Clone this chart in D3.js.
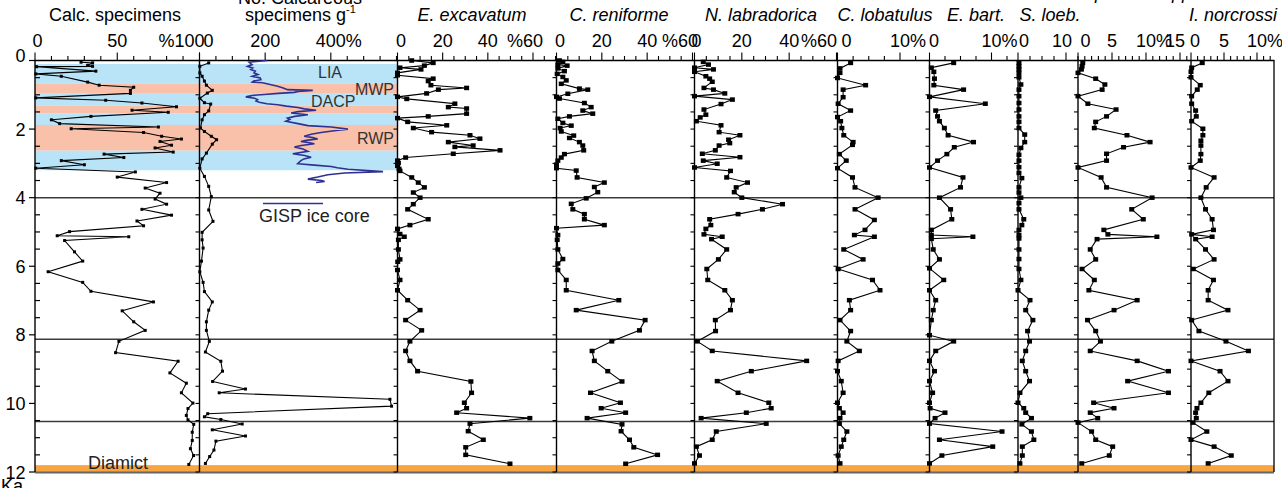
<!DOCTYPE html>
<html>
<head>
<meta charset="utf-8">
<script src="https://cdn.jsdelivr.net/npm/d3@7"></script>
<style>
    body { margin: 0; background: #fff; }
    svg { display: block; font-family: "Liberation Sans", Arial, sans-serif; }
</style>
</head>
<body>
<svg id="chart" width="1282" height="488"></svg>
<script>
// ages in ka
var calcAges = [0.05,0.07,0.14,0.17,0.18,0.31,0.39,0.46,0.63,0.72,0.78,0.87,0.96,1.09,1.16,1.24,1.35,1.45,1.51,1.63,1.73,1.84,1.94,1.99,2.10,2.21,2.29,2.36,2.47,2.55,2.67,2.73,2.83,2.92,3.04,3.14,3.25,3.40,3.56,3.72,3.87,4.04,4.19,4.34,4.51,4.68,4.82,4.99,5.11,5.14,5.25,5.58,5.85,6.16,6.47,6.73,7.04,7.30,7.62,7.87,8.19,8.52,8.77,9.11,9.41,9.69,9.99,10.15,10.35,10.48,10.61,10.84,11.08,11.32,11.52,11.78];
var calcValues = [28,35,32,35,1,37,0.5,16,32,39,60,58,58,0.5,43,65,86,59,81,34,10,15,75,22,66,77,89,76,83,73,84,42,54,16,30,0.5,61,50,80,67,76,73,80,65,83,62,66,21,13.5,57,18,24,29,8,29,34,72,53,60,67,51,49,87,82,92,89,96,93,92,93,96.5,95.6,95.6,94.5,96.4,93.5];

var specAges = [0.07,0.17,0.36,0.46,0.60,0.72,0.87,0.95,1.10,1.23,1.27,1.47,1.58,1.73,1.97,2.07,2.21,2.31,2.44,2.70,2.87,3.14,3.38,3.67,3.97,4.36,4.69,5.01,5.23,5.47,5.85,6.16,6.47,6.74,7.04,7.28,7.62,7.87,8.19,8.50,8.77,9.06,9.36,9.58,9.69,9.88,10.08,10.30,10.39,10.47,10.60,10.77,10.95,11.10,11.36,11.55,11.75];
var specValues = [28,1,1,8,15,21,39,24,1,15,34,28,15,8,3,15,36,52,39,21,8,1,15,28,36,28,41,8,8,11,6,1,11,15,39,28,21,21,30,18,65,70,40,140,60,580,585,25,15,65,130,39,140,50,44,31,18];

var gispAges = [0.0,0.05,0.12,0.17,0.22,0.26,0.31,0.36,0.41,0.46,0.51,0.56,0.60,0.63,0.65,0.70,0.75,0.80,0.85,0.87,0.90,0.93,0.96,0.99,1.02,1.06,1.10,1.14,1.18,1.22,1.26,1.29,1.33,1.37,1.41,1.45,1.49,1.53,1.58,1.63,1.68,1.72,1.77,1.84,1.90,1.94,2.00,2.05,2.10,2.15,2.21,2.25,2.29,2.33,2.36,2.40,2.43,2.48,2.52,2.58,2.65,2.72,2.77,2.82,2.87,2.92,3.01,3.05,3.09,3.13,3.17,3.24,3.28,3.33,3.40,3.46,3.50,3.53,3.56];
var gispValues = [207,151,160,146,162,156,170,166,178,161,185,187,165,161,192,215,238,255,268,345,300,289,240,197,160,141,168,177,172,182,205,238,265,300,319,355,300,279,330,290,268,275,263,300,330,401,452,410,370,340,319,345,360,325,309,335,350,310,289,315,330,284,320,340,318,309,299,350,401,420,452,559,442,391,360,330,372,381,355];

var excAges = [0.0,0.07,0.15,0.21,0.26,0.36,0.43,0.53,0.60,0.72,0.80,0.85,0.96,1.06,1.12,1.26,1.36,1.40,1.55,1.63,1.68,1.79,1.89,1.97,2.09,2.18,2.28,2.38,2.48,2.52,2.62,2.72,2.83,2.92,2.99,3.07,3.16,3.22,3.41,3.56,3.70,3.85,4.0,4.19,4.34,4.63,4.80,4.91,5.06,5.14,5.23,5.51,5.80,5.87,6.11,6.40,6.70,6.99,7.28,7.57,7.87,8.19,8.47,8.76,9.06,9.36,9.69,9.98,10.14,10.27,10.43,10.59,10.81,11.06,11.28,11.50,11.76];
var excValues = [6.3,15.8,11.9,1.1,10.4,0,0,15.8,13.6,14.8,30.6,18.1,12.9,0,4.1,25.4,22.5,30.6,30.6,13.6,0,4.5,21.8,7.0,15.1,32.1,36.5,22.5,33.5,25.4,45.4,24.7,3.6,0,0.4,0,0.7,1.1,6.3,9.2,11.9,7.0,10,7.0,4.5,13.6,5.5,0,1.1,3.0,0.4,0.4,1.1,0.1,0,1.1,0,4.5,10,3.6,10.7,5.5,3.6,5.5,8.9,32.5,32.8,29.6,30.6,26.2,58.6,32.1,31.3,38.0,30.2,30.2,49.8];

var renAges = [0.0,0.04,0.12,0.15,0.23,0.31,0.39,0.48,0.58,0.68,0.82,0.85,0.97,1.06,1.11,1.24,1.36,1.46,1.55,1.63,1.70,1.82,1.90,1.97,2.07,2.19,2.26,2.38,2.48,2.62,2.73,2.83,2.92,3.04,3.14,3.21,3.41,3.56,3.69,3.84,4.02,4.18,4.34,4.48,4.63,4.80,4.89,5.09,5.23,5.51,5.79,5.92,6.11,6.40,6.70,6.99,7.28,7.57,7.87,8.19,8.47,8.76,9.06,9.36,9.69,9.98,10.14,10.27,10.43,10.61,10.81,11.06,11.28,11.50,11.76];
var renValues = [1.3,2.8,0.6,4.7,0.6,3.5,0.3,2.8,4.3,2.1,10.1,13.8,5.0,0,1.3,12.3,15.3,11.6,16.0,5.7,0.6,2.8,6.5,1.6,2.1,7.6,5.7,10.1,11.6,12.0,3.5,2.1,0.6,0,0,8.7,9.1,21.1,16.7,18.2,13.1,6.5,7.2,12.3,12.3,21.1,0,0.6,0.3,0.6,2.8,0.6,0.6,4.3,4.3,27.5,8.7,39.1,36.6,24.4,15.7,16.7,22.6,28.9,15.0,28.2,19.7,30.5,13.5,28.9,28.5,32.2,34.1,44.6,30.5];

var labAges = [0.04,0.12,0.21,0.26,0.33,0.46,0.53,0.62,0.80,0.85,0.96,1.04,1.14,1.27,1.43,1.58,1.66,1.77,1.89,2.09,2.18,2.31,2.41,2.48,2.62,2.72,2.82,2.92,3.01,3.12,3.22,3.41,3.56,3.70,3.84,4.0,4.19,4.34,4.48,4.63,4.80,4.91,5.07,5.14,5.21,5.51,5.80,6.08,6.40,6.70,6.99,7.28,7.57,7.89,8.19,8.47,8.76,9.06,9.35,9.69,9.98,10.14,10.27,10.43,10.59,10.82,11.06,11.26,11.52,11.75];
var labValues = [3.7,5.9,0,8.0,0,4.8,6.4,7.5,4.0,8.0,12.8,0,16.0,11.2,4.0,4.8,2.4,0.8,11.2,10.4,19.2,14.4,14.9,10.4,8.8,3.3,19.2,3.7,9.6,0,15.2,13.6,22.4,17.6,16.8,20,37.2,28.7,18.4,6.4,6.9,4.8,4.0,11.7,7.2,13.6,10.1,5.2,5.6,12.8,16.0,15.2,8.8,8.9,1.2,7.5,47.4,24,9.6,18.4,31.4,32.4,21.9,2.8,30.3,9.2,7.5,0.8,2.1,0];

var lobAges = [0.07,0.23,0.36,0.51,0.72,0.85,1.07,1.26,1.46,1.65,1.77,1.97,2.18,2.38,2.46,2.73,2.92,3.14,3.41,3.70,4.0,4.34,4.65,4.94,5.09,5.14,5.51,5.80,6.08,6.40,6.70,6.99,7.28,7.57,7.89,8.19,8.47,8.76,9.06,9.35,9.69,9.98,10.14,10.27,10.43,10.59,10.82,11.06,11.26,11.52,11.75];
var lobValues = [2.1,0.4,0.4,0,4.5,0.9,0.9,0.1,2.1,0,0.5,0.7,1.0,2.5,2.4,0.3,1.4,0,2.4,2.8,6.5,2.8,5.9,4.4,2.7,5.9,1.0,4.1,0.1,5.6,6.8,1.9,2.1,0.4,2.1,1.5,3.5,0.1,0,0.6,0.9,0,0.3,0.9,0.4,0.3,1.5,1.0,0.6,0.1,0.4];

var bartAges = [0.07,0.21,0.33,0.53,0.72,0.85,1.06,1.26,1.46,1.63,1.77,1.97,2.18,2.38,2.53,2.73,2.92,3.12,3.41,3.70,4.0,4.34,4.63,4.94,5.09,5.14,5.20,5.51,5.80,6.06,6.40,6.70,6.99,7.28,7.57,8.01,8.19,8.47,8.76,9.06,9.35,9.69,9.98,10.14,10.27,10.43,10.59,10.82,11.06,11.26,11.52,11.75];
var bartValues = [3.9,0.3,0.7,0.8,0.7,5.5,0,9.0,1.0,1.3,1.6,2.4,3.0,7.1,4.0,2.8,1.3,0,5.4,5.0,1.6,3.4,3.6,0.3,0.3,7.0,0.3,0.6,1.6,0,2.3,0,1.0,0.6,0.3,0,3.9,1.0,0,0.8,0,0.5,0,0.1,2.5,0.9,0,11.7,1.6,10.2,2.0,0];

var loebAges = [0.07,0.17,0.26,0.36,0.49,0.70,0.85,1.04,1.24,1.43,1.63,1.79,1.97,2.16,2.38,2.55,2.75,2.92,3.11,3.28,3.43,3.70,3.85,4.0,4.16,4.34,4.63,4.80,4.94,5.09,5.19,5.51,5.79,6.08,6.40,6.70,6.99,7.28,7.57,7.89,8.19,8.47,8.76,9.06,9.35,9.69,9.98,10.14,10.27,10.43,10.61,10.82,11.06,11.26,11.52,11.75];
var loebValues = [0.2,0.2,0.2,0.2,0.2,0.6,0.2,0.2,0.2,0.2,0.2,0.2,0.2,1.4,1.4,0.6,0.2,0.2,0.2,0.2,0.8,0.2,0.2,0.6,0.2,0.2,1.2,0.8,0.2,0.2,0.2,0.2,0.2,0.2,0.6,0,2.5,1.6,3.1,2.0,2.4,1.6,0.9,1.6,2.4,0.4,0,1.2,1.6,2.8,0.8,2.8,3.3,0.9,0.9,0.4];

var sppAges = [0.07,0.17,0.26,0.36,0.53,0.70,0.85,1.04,1.26,1.43,1.63,1.79,1.97,2.18,2.38,2.53,2.72,2.92,3.12,3.41,3.70,4.0,4.34,4.63,4.94,5.07,5.14,5.21,5.51,5.80,6.08,6.40,6.70,6.99,7.28,7.57,7.89,8.19,8.47,8.76,9.06,9.35,9.69,9.98,10.14,10.27,10.43,10.56,10.82,11.06,11.26,11.52,11.75];
var sppValues = [0.7,0.6,0.5,0,2.6,3.95,3.55,0,1.45,5.6,4.2,2.6,2.4,7.2,10.6,6.7,4.2,4.2,0,3.4,4.2,10.9,7.9,9.6,3.8,4.4,11.6,2.8,1.8,2.6,0.6,2.4,1.6,8.7,5.3,1.4,2.6,3.3,1.8,8.7,13.3,7.3,13.3,2.3,5.3,1.8,2.9,0,2.0,2.6,5.1,4.6,0.55];

var norcAges = [0.07,0.21,0.33,0.49,0.72,0.85,1.04,1.26,1.46,1.63,1.77,1.99,2.18,2.34,2.48,2.73,2.92,3.12,3.41,3.70,4.0,4.34,4.63,4.94,5.07,5.14,5.21,5.51,5.80,6.08,6.40,6.70,6.99,7.28,7.57,7.89,8.19,8.47,8.76,9.06,9.35,9.69,9.98,10.14,10.27,10.43,10.56,10.82,11.06,11.26,11.52,11.75];
var norcValues = [1.7,0.1,0,0,1.4,0.95,0.1,0.1,0.7,0.8,0.1,1.8,1.8,1.5,1.5,1.5,1.4,0,3.5,2.3,1.5,2.2,3.2,3.4,0.1,3.2,0.7,2.2,3.5,0.35,3.4,2.6,2.6,5.6,0.1,1.2,5.3,8.7,0,4.4,5.6,2.7,1.5,0.9,0.7,0.8,0.3,2.4,0,3.5,6.1,2.6];

// climate periods (shaded), boundaries, diamict
var bandStarts = [0.1, 0.68, 0.97, 1.32, 1.55, 1.88, 2.63];
var bandEnds = [0.68, 0.97, 1.32, 1.55, 1.88, 2.63, 3.2];
var bandKinds = ["cold", "warm", "cold", "warm", "cold", "warm", "cold"];
var periodNames = ["LIA", "MWP", "DACP", "RWP"];
var boundaryAges = [4.0, 8.13, 10.53];
var diamictTop = 11.8;

var ageTicks = [0, 2, 4, 6, 8, 10, 12];

var calcTicks = [0, 50, 100], calcTickText = ["0", "50", "%100"];
var specTicks = [0, 200, 400], specTickText = ["0", "200", "400%"];
var pct60Ticks = [0, 20, 40, 60], pct60TickText = ["0", "20", "40", "%60"];
var pct10Ticks = [0, 10], pct10TickText = ["0", "10%"];
var loebTicks = [0, 10], loebTickText = ["0", "10"];
var sppTicks = [0, 5, 10, 15], sppTickText = ["0", "5", "10%", "15"];
var norcTicks = [0, 5, 10], norcTickText = ["0", "5", "10%"];

// firstDx / lastDx nudge the end labels the way the original was set
var panels = [
    {left: 35, vRef: 100, pxRef: 199.5, right: 199.5, step: 10, firstDx: 2.5, lastDx: -10, ticks: calcTicks, tickText: calcTickText, ages: calcAges, values: calcValues, mark: 3},
    {left: 199.5, vRef: 600, pxRef: 396.5, right: 397.5, step: 50, firstDx: 9, lastDx: 0, ticks: specTicks, tickText: specTickText, ages: specAges, values: specValues, mark: 3},
    {left: 397.5, vRef: 60, pxRef: 533, right: 556.5, step: 5, firstDx: 3.5, lastDx: 0, ticks: pct60Ticks, tickText: pct60TickText, ages: excAges, values: excValues, mark: 5},
    {left: 556.5, vRef: 60, pxRef: 692.5, right: 694.5, step: 5, firstDx: 3.5, lastDx: -4.5, ticks: pct60Ticks, tickText: pct60TickText, ages: renAges, values: renValues, mark: 5},
    {left: 694.5, vRef: 60, pxRef: 836.5, right: 837.5, step: 5, firstDx: 2, lastDx: -9.5, ticks: pct60Ticks, tickText: pct60TickText, ages: labAges, values: labValues, mark: 5},
    {left: 837.5, vRef: 10, pxRef: 900, right: 929.5, step: 2.5, firstDx: 9, lastDx: 0, ticks: pct10Ticks, tickText: pct10TickText, ages: lobAges, values: lobValues, mark: 5},
    {left: 929.5, vRef: 10, pxRef: 991.5, right: 1018, step: 2.5, firstDx: 4.5, lastDx: 0, ticks: pct10Ticks, tickText: pct10TickText, ages: bartAges, values: bartValues, mark: 5},
    {left: 1018, vRef: 10, pxRef: 1066, right: 1078, step: 2.5, firstDx: 6, lastDx: -4, ticks: loebTicks, tickText: loebTickText, ages: loebAges, values: loebValues, mark: 5},
    {left: 1078, vRef: 15, pxRef: 1180, right: 1191, step: 1, firstDx: 7.5, lastDx: -5, ticks: sppTicks, tickText: sppTickText, ages: sppAges, values: sppValues, mark: 5},
    {left: 1191, vRef: 10, pxRef: 1257, right: 1274, step: 1, firstDx: 4, lastDx: 0, ticks: norcTicks, tickText: norcTickText, ages: norcAges, values: norcValues, mark: 5}
];

var titles = [
    {text: "Calc. specimens", x: 115, y: 21, italic: false},
    {text: "No. Calcareous", x: 300, y: 3.5, italic: false},
    {text: "E. excavatum", x: 472, y: 21, italic: true},
    {text: "C. reniforme", x: 619, y: 21, italic: true},
    {text: "N. labradorica", x: 761, y: 21, italic: true},
    {text: "C. lobatulus", x: 885, y: 21, italic: true},
    {text: "E. bart.", x: 976, y: 21, italic: true},
    {text: "S. loeb.", x: 1050, y: 21, italic: true},
    {text: "Elphidium spp.", x: 1138, y: -1.5, italic: true},
    {text: "I. norcrossi", x: 1233, y: 21, italic: true}
];

var svg = d3.select("#chart");

var yScale = d3.scaleLinear().domain([0, 12]).range([60.5, 472]);
var yTop = yScale(0), yBottom = yScale(12);
var xLeft = 35, xRight = 1274;

// shading
svg.selectAll(".band")
    .data(d3.range(bandStarts.length))
    .enter()
    .append("rect")
    .attr("x", xLeft)
    .attr("width", 397.5 - xLeft)
    .attr("y", function (i) { return yScale(bandStarts[i]); })
    .attr("height", function (i) { return yScale(bandEnds[i]) - yScale(bandStarts[i]); })
    .attr("fill", function (i) { return bandKinds[i] === "cold" ? "#B9E3F7" : "#F9C1A9"; });

svg.append("rect")
    .attr("x", xLeft)
    .attr("width", xRight - xLeft)
    .attr("y", yScale(diamictTop))
    .attr("height", yBottom - yScale(diamictTop))
    .attr("fill", "#F6A541");

svg.selectAll(".boundary")
    .data(boundaryAges)
    .enter()
    .append("line")
    .attr("x1", xLeft)
    .attr("x2", xRight)
    .attr("y1", function (d) { return yScale(d); })
    .attr("y2", function (d) { return yScale(d); })
    .style("stroke", "#3c3c3c")
    .style("stroke-width", 1.5);

// frame
svg.append("line")
    .attr("x1", xLeft).attr("x2", xRight)
    .attr("y1", yBottom + 0.5).attr("y2", yBottom + 0.5)
    .style("stroke", "#666").style("stroke-width", 2);
svg.append("line")
    .attr("x1", xRight).attr("x2", xRight)
    .attr("y1", yTop).attr("y2", yBottom)
    .style("stroke", "#000").style("stroke-width", 1.3);
svg.append("line")
    .attr("x1", xLeft - 0.5).attr("x2", xRight + 0.5)
    .attr("y1", yTop).attr("y2", yTop)
    .style("stroke", "#000").style("stroke-width", 1.5);

// age axis
var halfAges = d3.range(0, 12.01, 0.5);
svg.selectAll(".ageTick")
    .data(halfAges)
    .enter()
    .append("line")
    .attr("x1", function (d) { return d % 2 === 0 ? xLeft - 6 : xLeft; })
    .attr("x2", function (d) { return d % 2 === 0 ? xLeft : xLeft + 5; })
    .attr("y1", function (d) { return yScale(d); })
    .attr("y2", function (d) { return yScale(d); })
    .style("stroke", "#000")
    .style("stroke-width", 1.2);

svg.selectAll(".ageLabel")
    .data(ageTicks)
    .enter()
    .append("text")
    .attr("x", 25.5)
    .attr("y", function (d) { return yScale(d) + 6.5 - (d === 0 ? 5 : 0); })
    .attr("text-anchor", "end")
    .style("font-size", "18px")
    .text(function (d) { return d; });

svg.append("text")
    .attr("x", 1)
    .attr("y", 492)
    .style("font-size", "18px")
    .text("Ka");

panels.forEach(function (p, k) {
    var x = d3.scaleLinear().domain([0, p.vRef]).range([p.left, p.pxRef]);
    var vMax = x.invert(p.right);
    var g = svg.append("g");

    var isMajor = function (v) {
        return p.ticks.some(function (t) { return Math.abs(t - v) < 1e-6; });
    };

    g.selectAll(".xt")
        .data(d3.range(0, vMax + 1e-6, p.step))
        .enter()
        .append("line")
        .attr("x1", function (d) { return x(d); })
        .attr("x2", function (d) { return x(d); })
        .attr("y1", yTop)
        .attr("y2", function (d) { return yTop - (isMajor(d) ? 8 : 4.5); })
        .style("stroke", "#000")
        .style("stroke-width", 1.1);

    p.ticks.forEach(function (v, i) {
        var s = p.tickText[i];
        var num = s.replace("%", "");
        var dx = i === 0 ? p.firstDx : (i === p.ticks.length - 1 ? p.lastDx : 0);
        var cx = x(v) + dx;
        var t = g.append("text")
            .attr("x", cx)
            .attr("y", 47)
            .attr("text-anchor", "middle")
            .style("font-size", "18px")
            .text(num);
        var w = t.node().getComputedTextLength();
        if (s.charAt(0) === "%") {
            g.append("text").attr("x", cx - w / 2).attr("y", 47)
                .attr("text-anchor", "end").style("font-size", "18px").text("%");
        } else if (s.charAt(s.length - 1) === "%") {
            g.append("text").attr("x", cx + w / 2).attr("y", 47)
                .attr("text-anchor", "start").style("font-size", "18px").text("%");
        }
    });

    // panel axis
    g.append("line")
        .attr("x1", p.left).attr("x2", p.left)
        .attr("y1", yTop).attr("y2", yBottom)
        .style("stroke", "#000")
        .style("stroke-width", 1.4);
    if (k > 0) {
        g.selectAll(".yt")
            .data(halfAges)
            .enter()
            .append("line")
            .attr("x1", p.left - 4)
            .attr("x2", p.left)
            .attr("y1", function (d) { return yScale(d); })
            .attr("y2", function (d) { return yScale(d); })
            .style("stroke", "#000")
            .style("stroke-width", 1.1);
    }

    if (k === 1) {
        var gisp = d3.zip(gispAges, gispValues);
        g.append("path")
            .datum(gisp)
            .attr("d", d3.line()
                .x(function (d) { return x(d[1]); })
                .y(function (d) { return yScale(d[0]); }))
            .style("fill", "none")
            .style("stroke", "#2E3192")
            .style("stroke-width", 1.6);
    }

    var pts = d3.zip(p.ages, p.values);
    g.append("path")
        .datum(pts)
        .attr("d", d3.line()
            .x(function (d) { return x(d[1]); })
            .y(function (d) { return yScale(d[0]); }))
        .style("fill", "none")
        .style("stroke", "#000")
        .style("stroke-width", 1.1);

    var mw = p.mark, mh = p.mark === 5 ? 4.5 : 3;
    g.selectAll(".pt")
        .data(pts)
        .enter()
        .append("rect")
        .attr("x", function (d) { return x(d[1]) - mw / 2; })
        .attr("y", function (d) { return yScale(d[0]) - mh / 2; })
        .attr("width", mw)
        .attr("height", mh)
        .attr("fill", "#000");
});

// titles
svg.selectAll(".title")
    .data(titles)
    .enter()
    .append("text")
    .attr("x", function (d) { return d.x; })
    .attr("y", function (d) { return d.y; })
    .attr("text-anchor", "middle")
    .style("font-size", "18px")
    .style("font-style", function (d) { return d.italic ? "italic" : "normal"; })
    .text(function (d) { return d.text; });

var sub = svg.append("text")
    .attr("x", 245)
    .attr("y", 21)
    .style("font-size", "18px")
    .text("specimens g");
sub.append("tspan")
    .attr("dy", -8)
    .style("font-size", "11px")
    .text("-1");

// period labels
var periodPos = [
    {x: 318, y: 78, anchor: "start"},
    {x: 394, y: 95, anchor: "end"},
    {x: 311, y: 106.5, anchor: "start"},
    {x: 394, y: 144, anchor: "end"}
];
svg.selectAll(".period")
    .data(periodNames)
    .enter()
    .append("text")
    .attr("x", function (d, i) { return periodPos[i].x; })
    .attr("y", function (d, i) { return periodPos[i].y; })
    .attr("text-anchor", function (d, i) { return periodPos[i].anchor; })
    .style("font-size", "16px")
    .style("fill", "#333")
    .text(function (d) { return d; });

// GISP legend
svg.append("line")
    .attr("x1", 263).attr("x2", 323)
    .attr("y1", 203.5).attr("y2", 203.5)
    .style("stroke", "#2E3192")
    .style("stroke-width", 1.6);
svg.append("text")
    .attr("x", 259)
    .attr("y", 222)
    .style("font-size", "18px")
    .style("fill", "#222")
    .text("GISP ice core");

svg.append("text")
    .attr("x", 88)
    .attr("y", 469)
    .style("font-size", "18px")
    .style("fill", "#222")
    .text("Diamict");
</script>
</body>
</html>
